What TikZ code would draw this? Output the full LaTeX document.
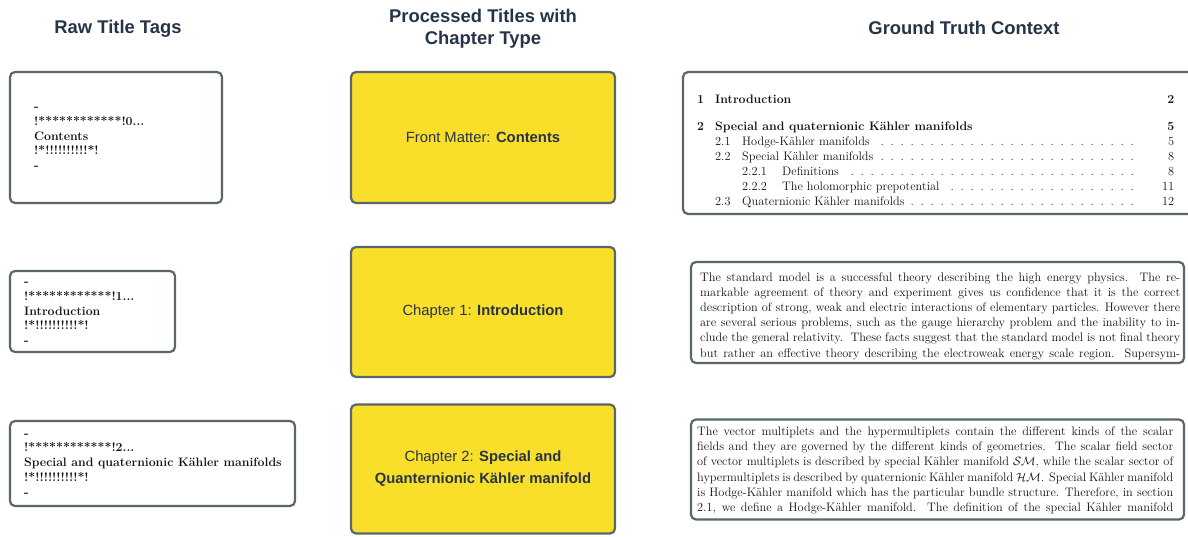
\documentclass[tikz,border=0pt]{standalone}
\usepackage{fontspec}
\newfontfamily\hdfont{Liberation Sans}
\definecolor{edge}{RGB}{90,102,104}
\definecolor{chapyellow}{RGB}{249,223,42}
\definecolor{ink}{RGB}{38,52,72}
\definecolor{paper}{RGB}{20,20,20}

% one justified line of running text
\newcommand\jline[2]{\hbox to #1{#2}}
% table-of-contents lines
\newcommand\tocdots{\leaders\hbox to 10pt{\hfil.\hfil}\hfill}
\newcommand\tocsec[3]{\hbox to 477pt{\bfseries\hbox to 18pt{#1\hfil}#2\hfil #3}}
\newcommand\tocsub[3]{\hbox to 477pt{\hskip18pt\hbox to 27pt{#1\hfil}#2\tocdots\hbox to 29pt{\hfil #3}}}
\newcommand\tocsubsub[3]{\hbox to 477pt{\hskip45pt\hbox to 40pt{#1\hfil}#2\tocdots\hbox to 29pt{\hfil #3}}}

\begin{document}
\begin{tikzpicture}[x=1pt,y=-1pt,
  frame/.style={draw=edge, line width=2.2pt, rounded corners=5pt, inner sep=0pt},
  rawbox/.style={frame, fill=white},
  chapbox/.style={frame, fill=chapyellow, text=ink, align=center,
    minimum width=264pt, font=\hdfont\fontsize{14.8}{22}\selectfont},
  ctxbox/.style={frame, fill=white},
  head/.style={text=ink, align=center, inner sep=0pt,
    font=\hdfont\bfseries\fontsize{18.4}{22}\selectfont},
  rawtext/.style={anchor=base west, inner sep=0pt, text=paper,
    font=\bfseries\fontsize{12.3}{14.8}\selectfont},
  ctxtext/.style={anchor=base west, inner sep=0pt, text=paper,
    font=\fontsize{12.3}{15.2}\selectfont}]
\useasboundingbox (0,0) rectangle (1188,536);

% column headings
\node[head] (h1) at (118,29) {Raw Title Tags};
\node[head] (h2) at (483,29) {Processed Titles with\\Chapter Type};
\node[head] (h3) at (964,28) {Ground Truth Context};

% raw title tags
\node[rawbox, minimum width=212pt, minimum height=131pt] (raw1) at (116,137.5) {};
\node[rawtext] (raw1t) at (34,110.4) {\parbox[t]{180pt}{\raggedright
  -\\!************!0...\\Contents\\!*!!!!!!!!!!*!\\-}};
\node[rawbox, minimum width=165pt, minimum height=81pt] (raw2) at (92.5,311.5) {};
\node[rawtext] (raw2t) at (24,285.4) {\parbox[t]{150pt}{\raggedright
  -\\!************!1...\\Introduction\\!*!!!!!!!!!!*!\\-}};
\node[rawbox, minimum width=285pt, minimum height=85pt] (raw3) at (152.5,463.5) {};
\node[rawtext] (raw3t) at (24,437) {\parbox[t]{270pt}{\raggedright
  -\\!************!2...\\Special and quaternionic Kähler manifolds\\!*!!!!!!!!!!*!\\-}};

% processed titles
\node[chapbox, minimum height=131pt] (chap1) at (483,137.5) {Front Matter: \textbf{Contents}};
\node[chapbox, minimum height=130pt] (chap2) at (483,312) {Chapter 1: \textbf{Introduction}};
\node[chapbox, minimum height=129pt] (chap3) at (483,469)
  {Chapter 2: \textbf{Special and}\\\textbf{Quanternionic Kähler manifold}};

% ground truth context
\node[ctxbox, minimum width=513pt, minimum height=142pt] (ctx1) at (939.5,143) {};
\node[ctxtext] (ctx1t) at (697,103) {\vtop{\baselineskip=15pt
  \tocsec{1}{Introduction}{2}
  \vskip12pt
  \tocsec{2}{Special and quaternionic Kähler manifolds}{5}
  \tocsub{2.1}{Hodge-Kähler manifolds}{5}
  \tocsub{2.2}{Special Kähler manifolds}{8}
  \tocsubsub{2.2.1}{Definitions}{8}
  \tocsubsub{2.2.2}{The holomorphic prepotential}{11}
  \tocsub{2.3}{Quaternionic Kähler manifolds}{12}}};

\node[ctxbox, minimum width=493pt, minimum height=101pt] (ctx2) at (937.5,312.5) {};
\node[ctxtext] (ctx2t) at (700,281) {\vtop{
  \jline{480pt}{The standard model is a successful theory describing the high energy physics.\ \ The re-}
  \jline{480pt}{markable agreement of theory and experiment gives us confidence that it is the correct}
  \jline{480pt}{description of strong, weak and electric interactions of elementary particles. However there}
  \jline{480pt}{are several serious problems, such as the gauge hierarchy problem and the inability to in-}
  \jline{480pt}{clude the general relativity.\ \ These facts suggest that the standard model is not final theory}
  \jline{480pt}{but rather an effective theory describing the electroweak energy scale region.\ \ Supersym-}}};

\node[ctxbox, minimum width=493pt, minimum height=100pt] (ctx3) at (937.5,469.5) {};
\node[ctxtext] (ctx3t) at (697,435.5) {\vtop{
  \jline{476pt}{The vector multiplets and the hypermultiplets contain the different kinds of the scalar}
  \jline{476pt}{fields and they are governed by the different kinds of geometries.\ \ The scalar field sector}
  \jline{476pt}{of vector multiplets is described by special Kähler manifold $\mathcal{SM}$, while the scalar sector of}
  \jline{476pt}{hypermultiplets is described by quaternionic Kähler manifold $\mathcal{HM}$. Special Kähler manifold}
  \jline{476pt}{is Hodge-Kähler manifold which has the particular bundle structure. Therefore, in section}
  \jline{476pt}{2.1, we define a Hodge-Kähler manifold.\ \ The definition of the special Kähler manifold}}};
\end{tikzpicture}
\end{document}
